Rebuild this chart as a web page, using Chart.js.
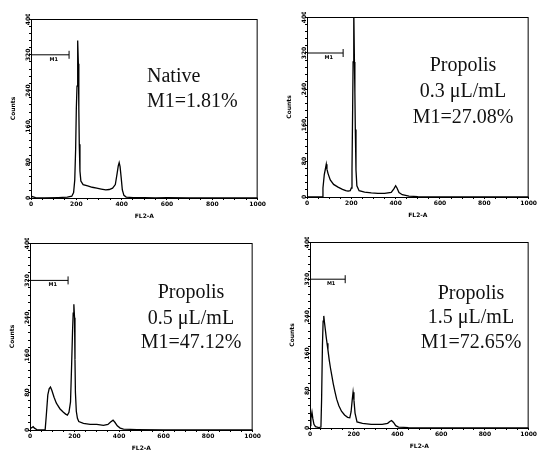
<!DOCTYPE html>
<html>
<head>
<meta charset="utf-8">
<script src="https://cdn.jsdelivr.net/npm/chart.js@4.4.1/dist/chart.umd.min.js"></script>
<style>
  body { margin: 0; width: 538px; height: 450px; background: #fff; position: relative; overflow: hidden; }
  canvas { position: absolute; }
  .note { position: absolute; font-family: "Liberation Serif", "Times New Roman", serif; font-size: 20px; line-height: 20px; color: #111; white-space: nowrap; }
</style>
</head>
<body>
<canvas id="p1" width="266" height="206" style="left:1px;top:14px"></canvas>
<canvas id="p2" width="261" height="207" style="left:277px;top:12px"></canvas>
<canvas id="p3" width="262" height="214" style="left:0px;top:238px"></canvas>
<canvas id="p4" width="258" height="213" style="left:280px;top:237px"></canvas>

<script>
// histogrammes FL2-A (canal, nombre de cellules)
const nativeCh = [0, 20, 60, 120, 160, 180, 188, 193, 197, 200, 203, 205, 207, 209, 211, 213, 216, 220, 230, 250, 270, 290, 310, 330, 345, 360, 372, 380, 385, 389, 393, 398, 403, 410, 420, 450, 500, 550, 600, 700, 800, 900, 1000];
const nativeCounts = [4, 1, 0, 1, 2, 4, 12, 40, 110, 200, 250, 330, 352, 300, 200, 120, 60, 38, 30, 27, 24, 22, 20, 18, 19, 22, 30, 55, 72, 79, 70, 45, 18, 6, 2, 1, 1, 0, 1, 0, 0, 0, 0];

const p03Ch = [0, 60, 68, 72, 78, 84, 87, 90, 95, 105, 120, 140, 160, 175, 185, 195, 200, 203, 206, 208, 210, 212, 214, 216, 218, 221, 225, 235, 260, 290, 320, 350, 380, 392, 400, 406, 415, 430, 460, 500, 600, 800, 1000];
const p03Counts = [0, 0, 0, 20, 50, 65, 73, 62, 52, 38, 28, 22, 17, 14, 13, 14, 20, 60, 200, 300, 420, 420, 300, 233, 150, 60, 25, 14, 11, 9, 8, 8, 10, 18, 25, 20, 10, 5, 2, 1, 0, 0, 0];

const p05Ch = [0, 8, 14, 20, 30, 50, 68, 73, 80, 86, 92, 98, 108, 118, 124, 135, 150, 160, 168, 175, 182, 187, 191, 194, 197, 200, 202, 204, 208, 213, 219, 240, 270, 300, 330, 350, 362, 373, 382, 392, 405, 420, 480, 600, 800, 1000];
const p05Counts = [3, 5, 7, 4, 1, 0, 0, 30, 75, 88, 92, 85, 70, 58, 53, 45, 38, 34, 32, 38, 60, 140, 210, 250, 269, 240, 150, 80, 40, 25, 18, 14, 12, 12, 10, 12, 17, 21, 16, 9, 4, 2, 1, 0, 0, 0];

const p15Ch = [0, 4, 9, 13, 18, 25, 40, 50, 53, 57, 60, 63, 66, 70, 74, 78, 82, 88, 94, 100, 106, 114, 122, 132, 144, 158, 172, 182, 188, 193, 197, 201, 206, 215, 240, 260, 280, 300, 330, 355, 365, 373, 382, 392, 405, 450, 600, 800, 1000];
const p15Counts = [5, 20, 34, 20, 8, 3, 1, 2, 60, 180, 230, 241, 228, 212, 196, 182, 168, 146, 128, 112, 96, 78, 62, 48, 36, 28, 23, 22, 35, 60, 77, 60, 32, 13, 10, 9, 8, 8, 8, 10, 14, 16, 12, 5, 2, 1, 0, 0, 0];

// marqueur M1 (fin de la porte)
const m1Ends = [168, 163, 171, 161];
const m1Level = 320;
const xTicks = [0, 200, 400, 600, 800, 1000];
const yTicks = [0, 80, 160, 240, 320, 400];

const panelTitles = [
  ['Native', 'M1=1.81%'],
  ['Propolis', '0.3 μL/mL', 'M1=27.08%'],
  ['Propolis', '0.5 μL/mL', 'M1=47.12%'],
  ['Propolis', '1.5 μL/mL', 'M1=72.65%']
];
// position du texte : [x, baselines, alignement]
const notePos = [
  [147, [82, 107], 'left'],
  [463, [71, 97, 123], 'center'],
  [191, [298, 324, 348], 'center'],
  [471, [299, 323, 348], 'center']
];

const boxPlugin = {
  id: 'box',
  afterDraw(chart) {
    const a = chart.chartArea, c = chart.ctx;
    c.save();
    c.strokeStyle = '#000';
    c.lineWidth = 1;
    c.strokeRect(a.left + 0.5, a.top + 0.5, a.right - a.left - 1, a.bottom - a.top);
    // étiquette M1
    const g = chart.options.gateEnd;
    c.fillStyle = '#000';
    c.font = 'bold 5px "DejaVu Sans"';
    c.textAlign = 'center';
    c.textBaseline = 'top';
    c.fillText('M1', chart.scales.x.getPixelForValue(g * 0.6), chart.scales.y.getPixelForValue(m1Level) + 2);
    c.restore();
  }
};

function makePanel(id, ch, counts, gateEnd) {
  const pts = ch.map((x, i) => ({ x: x, y: counts[i] }));
  new Chart(document.getElementById(id), {
    type: 'scatter',
    data: {
      datasets: [{
        data: pts,
        showLine: true,
        borderColor: '#000',
        borderWidth: 1.3,
        pointRadius: 0,
        tension: 0
      }, {
        data: [{ x: 0, y: m1Level }, { x: gateEnd, y: m1Level }],
        showLine: true,
        borderColor: '#000',
        borderWidth: 1,
        pointStyle: 'line',
        rotation: 90,
        pointRadius: [0, 4],
        pointBorderColor: '#000',
        pointBorderWidth: 1
      }]
    },
    options: {
      responsive: false,
      animation: false,
      gateEnd: gateEnd,
      layout: { padding: { top: 4, right: 3 } },
      plugins: { legend: { display: false }, tooltip: { enabled: false } },
      scales: {
        x: {
          type: 'linear', min: 0, max: 1000,
          afterFit: s => { s.height = 22; },
          afterBuildTicks: s => { s.ticks = []; for (let v = 0; v <= 1000; v += 50) s.ticks.push({ value: v }); },
          ticks: {
            autoSkip: false, maxRotation: 0, padding: 1, color: '#000',
            font: { size: 6, weight: 'bold', family: 'DejaVu Sans' },
            callback: v => xTicks.includes(v) ? String(v) : ''
          },
          grid: { drawOnChartArea: false, tickLength: 2, color: '#000' },
          border: { color: '#000' },
          title: { display: true, text: 'FL2-A', color: '#000', padding: 0, font: { size: 6, weight: 'bold', family: 'DejaVu Sans' } }
        },
        y: {
          type: 'linear', min: 0, max: 400,
          afterFit: s => { s.width = 30; },
          afterBuildTicks: s => { s.ticks = []; for (let v = 0; v <= 400; v += 16) s.ticks.push({ value: v }); },
          ticks: {
            autoSkip: false, minRotation: 90, maxRotation: 90, crossAlign: 'center', padding: -6, color: '#000',
            font: { size: 6, weight: 'bold', family: 'DejaVu Sans' },
            callback: v => yTicks.includes(v) ? String(v) : ''
          },
          grid: { drawOnChartArea: false, tickLength: 2, color: '#000' },
          border: { color: '#000' },
          title: { display: true, text: 'Counts', color: '#000', padding: 9, font: { size: 6, weight: 'bold', family: 'DejaVu Sans' } }
        }
      }
    },
    plugins: [boxPlugin]
  });
}

makePanel('p1', nativeCh, nativeCounts, m1Ends[0]);
makePanel('p2', p03Ch, p03Counts, m1Ends[1]);
makePanel('p3', p05Ch, p05Counts, m1Ends[2]);
makePanel('p4', p15Ch, p15Counts, m1Ends[3]);

// textes des panneaux
panelTitles.forEach((lines, k) => {
  const [x, bases, align] = notePos[k];
  lines.forEach((t, j) => {
    const d = document.createElement('div');
    d.className = 'note';
    d.textContent = t;
    d.style.top = (bases[j] - 17) + 'px';
    if (align === 'left') { d.style.left = x + 'px'; }
    else { d.style.left = (x - 80) + 'px'; d.style.width = '160px'; d.style.textAlign = 'center'; }
    document.body.appendChild(d);
  });
});
</script>
</body>
</html>
